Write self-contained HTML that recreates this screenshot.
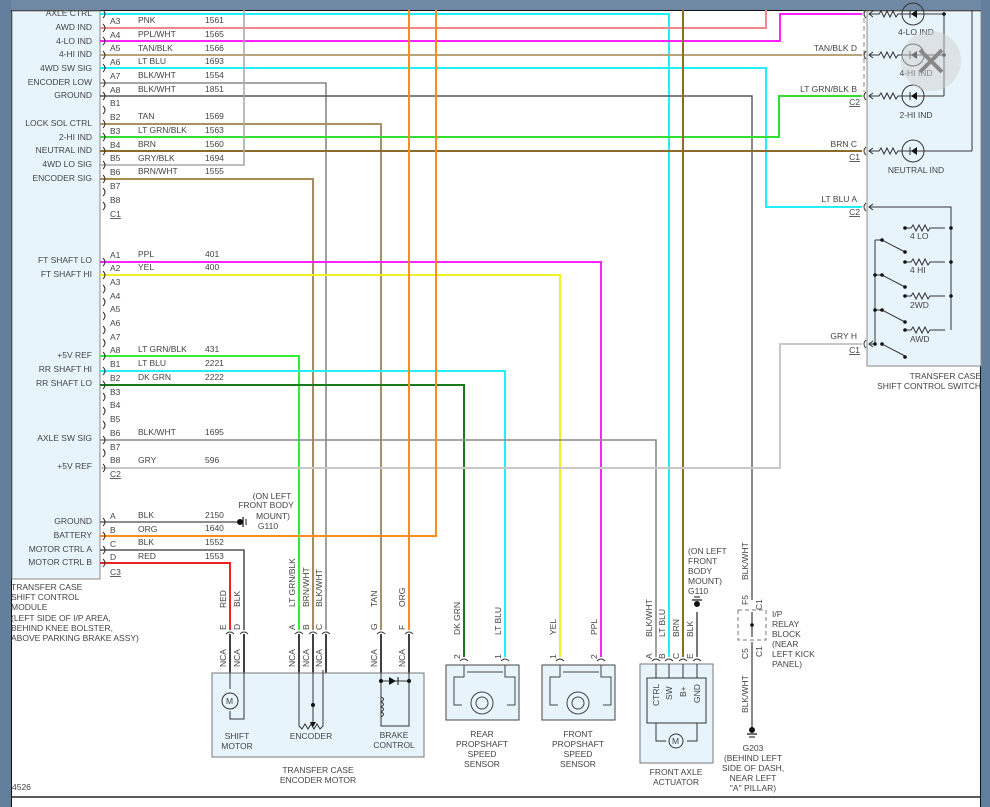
<!DOCTYPE html>
<html><head><meta charset="utf-8"><style>
html,body{margin:0;padding:0;background:#fff;}
svg{display:block;}
text{font-family:"Liberation Sans",sans-serif;font-size:8.5px;fill:#444;}
</style></head><body>
<svg width="990" height="807" viewBox="0 0 990 807" xmlns="http://www.w3.org/2000/svg">
<rect x="0" y="0" width="990" height="807" fill="#fff"/>
<rect x="0" y="0" width="990" height="10" fill="#6f88a4"/>
<rect x="0" y="0" width="11" height="807" fill="#62809e"/>
<rect x="981" y="0" width="9" height="807" fill="#62809e"/>
<line x1="11.5" y1="10" x2="11.5" y2="807" stroke="#111" stroke-width="1"/>
<line x1="980.5" y1="10" x2="980.5" y2="807" stroke="#111" stroke-width="1"/>
<line x1="11" y1="10.5" x2="981" y2="10.5" stroke="#111" stroke-width="1"/>
<line x1="11" y1="797" x2="981" y2="797" stroke="#222" stroke-width="1.5"/>
<text x="12" y="790">4526</text>

<rect x="12" y="11" width="88" height="568" fill="#e8f4fc" stroke="#888" stroke-width="1"/>
<rect x="867" y="11" width="114" height="355" fill="#e8f4fc" stroke="#888" stroke-width="1"/>

<g fill="none" stroke-width="2">
<polyline points="100,14 669,14 669,657" stroke="#22f0f8"/>
<polyline points="100,28 766,28 766,10" stroke="#f08890"/>
<polyline points="100,41 780,41 780,14 862,14" stroke="#ff22ff"/>
<polyline points="100,55 862,55" stroke="#b8a478"/>
<polyline points="100,68 766,68 766,207 862,207" stroke="#22f0f8"/>
<polyline points="100,83 326,83 326,630" stroke="#888" stroke-width="1.6"/>
<polyline points="100,96 752,96 752,600" stroke="#555" stroke-width="1.4"/>
<polyline points="100,124 381,124 381,630" stroke="#a89060"/>
<polyline points="100,137 779,137 779,96 862,96" stroke="#33dd33"/>
<polyline points="100,151 862,151" stroke="#8b6a2a"/>
<polyline points="100,165 244,165 244,10" stroke="#aaa" stroke-width="1.6"/>
<polyline points="100,179 313,179 313,630" stroke="#a88c50"/>
<line x1="683" y1="10" x2="683" y2="657" stroke="#8b6a2a"/>
<polyline points="100,262 601,262 601,657" stroke="#ff22ff"/>
<polyline points="100,275 560,275 560,657" stroke="#f0f022"/>
<polyline points="100,356 299,356 299,630" stroke="#33ee33"/>
<polyline points="100,371 505,371 505,657" stroke="#22f0f8"/>
<polyline points="100,385 464,385 464,657" stroke="#1a7a1a"/>
<polyline points="100,440 656,440 656,657" stroke="#888" stroke-width="1.6"/>
<polyline points="100,468 780,468 780,344 862,344" stroke="#c8c8c8"/>
<polyline points="100,522 237,522" stroke="#666" stroke-width="1.6"/>
<polyline points="100,536 436,536 436,10" stroke="#ff8c1a"/>
<line x1="409" y1="10" x2="409" y2="630" stroke="#ff8c1a"/>
<polyline points="100,550 244,550 244,630" stroke="#555" stroke-width="1.6"/>
<polyline points="100,563 230,563 230,630" stroke="#ee2222"/>
<line x1="697" y1="612" x2="697" y2="657" stroke="#555" stroke-width="1.6"/>
</g>

<g fill="none" stroke="#333" stroke-width="1">
<path d="M103,10 q4,4 0,8 M103,24 q4,4 0,8 M103,37 q4,4 0,8 M103,51 q4,4 0,8 M103,64 q4,4 0,8 M103,79 q4,4 0,8 M103,92 q4,4 0,8 M103,106 q4,4 0,8 M103,120 q4,4 0,8 M103,133 q4,4 0,8 M103,147 q4,4 0,8 M103,161 q4,4 0,8 M103,175 q4,4 0,8 M103,188 q4,4 0,8 M103,202 q4,4 0,8"/>
<path d="M103,258 q4,4 0,8 M103,271 q4,4 0,8 M103,285 q4,4 0,8 M103,298 q4,4 0,8 M103,312 q4,4 0,8 M103,326 q4,4 0,8 M103,339 q4,4 0,8 M103,352 q4,4 0,8 M103,367 q4,4 0,8 M103,381 q4,4 0,8 M103,393 q4,4 0,8 M103,407 q4,4 0,8 M103,421 q4,4 0,8 M103,436 q4,4 0,8 M103,449 q4,4 0,8 M103,464 q4,4 0,8"/>
<path d="M103,518 q4,4 0,8 M103,532 q4,4 0,8 M103,546 q4,4 0,8 M103,559 q4,4 0,8"/>
</g>

<g text-anchor="end">
<text x="92" y="16">AXLE CTRL</text><text x="92" y="30">AWD IND</text><text x="92" y="44">4-LO IND</text>
<text x="92" y="57">4-HI IND</text><text x="92" y="71">4WD SW SIG</text><text x="92" y="85">ENCODER LOW</text>
<text x="92" y="98">GROUND</text><text x="92" y="126">LOCK SOL CTRL</text><text x="92" y="140">2-HI IND</text>
<text x="92" y="153">NEUTRAL IND</text><text x="92" y="167">4WD LO SIG</text><text x="92" y="181">ENCODER SIG</text>
<text x="92" y="263">FT SHAFT LO</text><text x="92" y="277">FT SHAFT HI</text><text x="92" y="358">+5V REF</text>
<text x="92" y="372">RR SHAFT HI</text><text x="92" y="386">RR SHAFT LO</text><text x="92" y="441">AXLE SW SIG</text>
<text x="92" y="469">+5V REF</text><text x="92" y="524">GROUND</text><text x="92" y="538">BATTERY</text>
<text x="92" y="552">MOTOR CTRL A</text><text x="92" y="565">MOTOR CTRL B</text>
</g>
<g>
<text x="110" y="24">A3</text><text x="138" y="23">PNK</text><text x="205" y="23">1561</text>
<text x="110" y="38">A4</text><text x="138" y="37">PPL/WHT</text><text x="205" y="37">1565</text>
<text x="110" y="51">A5</text><text x="138" y="51">TAN/BLK</text><text x="205" y="51">1566</text>
<text x="110" y="65">A6</text><text x="138" y="64">LT BLU</text><text x="205" y="64">1693</text>
<text x="110" y="79">A7</text><text x="138" y="78">BLK/WHT</text><text x="205" y="78">1554</text>
<text x="110" y="93">A8</text><text x="138" y="92">BLK/WHT</text><text x="205" y="92">1851</text>
<text x="110" y="106">B1</text>
<text x="110" y="120">B2</text><text x="138" y="119">TAN</text><text x="205" y="119">1569</text>
<text x="110" y="134">B3</text><text x="138" y="133">LT GRN/BLK</text><text x="205" y="133">1563</text>
<text x="110" y="148">B4</text><text x="138" y="147">BRN</text><text x="205" y="147">1560</text>
<text x="110" y="161">B5</text><text x="138" y="161">GRY/BLK</text><text x="205" y="161">1694</text>
<text x="110" y="175">B6</text><text x="138" y="174">BRN/WHT</text><text x="205" y="174">1555</text>
<text x="110" y="189">B7</text><text x="110" y="203">B8</text><text x="110" y="217" text-decoration="underline">C1</text>
<text x="110" y="258">A1</text><text x="138" y="257">PPL</text><text x="205" y="257">401</text>
<text x="110" y="271">A2</text><text x="138" y="270">YEL</text><text x="205" y="270">400</text>
<text x="110" y="285">A3</text><text x="110" y="299">A4</text><text x="110" y="312">A5</text><text x="110" y="326">A6</text><text x="110" y="340">A7</text>
<text x="110" y="353">A8</text><text x="138" y="352">LT GRN/BLK</text><text x="205" y="352">431</text>
<text x="110" y="367">B1</text><text x="138" y="366">LT BLU</text><text x="205" y="366">2221</text>
<text x="110" y="381">B2</text><text x="138" y="380">DK GRN</text><text x="205" y="380">2222</text>
<text x="110" y="395">B3</text><text x="110" y="408">B4</text><text x="110" y="422">B5</text>
<text x="110" y="436">B6</text><text x="138" y="435">BLK/WHT</text><text x="205" y="435">1695</text>
<text x="110" y="450">B7</text>
<text x="110" y="463">B8</text><text x="138" y="463">GRY</text><text x="205" y="463">596</text>
<text x="110" y="477" text-decoration="underline">C2</text>
<text x="110" y="519">A</text><text x="138" y="518">BLK</text><text x="205" y="518">2150</text>
<text x="110" y="533">B</text><text x="138" y="532">ORG</text><text x="205" y="531">1640</text>
<text x="110" y="547">C</text><text x="138" y="545">BLK</text><text x="205" y="545">1552</text>
<text x="110" y="560">D</text><text x="138" y="559">RED</text><text x="205" y="559">1553</text>
<text x="110" y="575" text-decoration="underline">C3</text>
<text x="11" y="590">TRANSFER CASE</text><text x="11" y="600">SHIFT CONTROL</text><text x="11" y="610">MODULE</text>
<text x="11" y="621">(LEFT SIDE OF I/P AREA,</text><text x="11" y="631">BEHIND KNEE BOLSTER,</text><text x="11" y="641">ABOVE PARKING BRAKE ASSY)</text>
</g>

<g stroke="#111" fill="#111"><circle cx="240" cy="522" r="2.5"/><line x1="243" y1="517" x2="243" y2="527" stroke-width="1.2"/><line x1="246" y1="519" x2="246" y2="525"/></g>
<g text-anchor="middle"><text x="272" y="499">(ON LEFT</text><text x="266" y="508">FRONT BODY</text><text x="273" y="519">MOUNT)</text><text x="268" y="529">G110</text></g>

<g text-anchor="end">
<text x="857" y="51">TAN/BLK  D</text>
<text x="857" y="92">LT GRN/BLK  B</text><text x="860" y="105" text-decoration="underline">C2</text>
<text x="857" y="147">BRN  C</text><text x="860" y="160" text-decoration="underline">C1</text>
<text x="857" y="202">LT BLU  A</text><text x="860" y="215" text-decoration="underline">C2</text>
<text x="857" y="339">GRY  H</text><text x="860" y="353" text-decoration="underline">C1</text>
<text x="981" y="379">TRANSFER CASE</text><text x="981" y="389">SHIFT CONTROL SWITCH</text>
</g>
<line x1="864" y1="10" x2="864" y2="92" stroke="#888" stroke-dasharray="5,3"/>
<g fill="none" stroke="#333" stroke-width="1">
<path d="M866,10 q-4,4 0,8 M866,51 q-4,4 0,8 M866,92 q-4,4 0,8 M866,147 q-4,4 0,8 M866,203 q-4,4 0,8 M866,340 q-4,4 0,8"/>
<path d="M873,11 l-4,3 4,3 M873,52 l-4,3 4,3 M873,93 l-4,3 4,3 M873,148 l-4,3 4,3 M873,204 l-4,3 4,3 M873,341 l-4,3 4,3"/>
<path d="M869,14 h10 l2,-3 3,6 3,-6 3,6 3,-6 3,6 2,-3 h15"/>
<path d="M869,55 h10 l2,-3 3,6 3,-6 3,6 3,-6 3,6 2,-3 h15"/>
<path d="M869,96 h10 l2,-3 3,6 3,-6 3,6 3,-6 3,6 2,-3 h15"/>
<path d="M869,151 h10 l2,-3 3,6 3,-6 3,6 3,-6 3,6 2,-3 h15"/>
<circle cx="913" cy="14" r="11"/><circle cx="913" cy="55" r="11"/><circle cx="913" cy="96" r="11"/><circle cx="913" cy="151" r="11"/>
<path d="M909,14 h35 M909,55 h35 M909,96 h35 M909,151 h63 M944,14 v82 M972,151 v-141"/>
<path d="M910,10 v8 M910,51 v8 M910,92 v8 M910,147 v8"/>
<path d="M869,207 h82 v123"/>
<path d="M905,228 h6 l2,-3 3,6 3,-6 3,6 3,-6 3,6 2,-3 h15 M905,262 h6 l2,-3 3,6 3,-6 3,6 3,-6 3,6 2,-3 h15 M905,296 h6 l2,-3 3,6 3,-6 3,6 3,-6 3,6 2,-3 h15 M905,330 h6 l2,-3 3,6 3,-6 3,6 3,-6 3,6 2,-3 h15"/>
<path d="M869,344 h6 M875,240 v104 M875,275 h6 M875,310 h6 M882,240 l23,12 M882,275 l23,12 M882,310 l23,12 M882,344 l23,12 M875,240 h7"/>
</g>
<g fill="#111"><path d="M917,10 l-6,4 6,4z M917,51 l-6,4 6,4z M917,92 l-6,4 6,4z M917,147 l-6,4 6,4z"/>
<circle cx="944" cy="14" r="1.8"/><circle cx="944" cy="55" r="1.8"/>
<circle cx="905" cy="228" r="1.8"/><circle cx="951" cy="228" r="1.8"/><circle cx="905" cy="262" r="1.8"/><circle cx="951" cy="262" r="1.8"/><circle cx="905" cy="296" r="1.8"/><circle cx="951" cy="296" r="1.8"/><circle cx="905" cy="330" r="1.8"/>
<circle cx="882" cy="240" r="1.8"/><circle cx="905" cy="252" r="1.8"/><circle cx="875" cy="275" r="1.8"/><circle cx="882" cy="275" r="1.8"/><circle cx="905" cy="287" r="1.8"/><circle cx="875" cy="310" r="1.8"/><circle cx="882" cy="310" r="1.8"/><circle cx="905" cy="322" r="1.8"/><circle cx="875" cy="344" r="1.8"/><circle cx="882" cy="344" r="1.8"/><circle cx="905" cy="357" r="1.8"/></g>
<g text-anchor="middle"><text x="916" y="35">4-LO IND</text><text x="916" y="76">4-HI IND</text><text x="916" y="118">2-HI IND</text><text x="916" y="173">NEUTRAL IND</text></g>
<text x="910" y="239">4 LO</text><text x="910" y="273">4 HI</text><text x="910" y="308">2WD</text><text x="910" y="342">AWD</text>
<circle cx="931" cy="61" r="30" fill="#d0d0d0" fill-opacity="0.5"/>
<path d="M920,50 l22,22 M942,50 l-22,22" stroke="#888" stroke-width="4"/>

<g fill="none" stroke="#333" stroke-width="1">
<path d="M226,634 q4,-4 8,0 M240,634 q4,-4 8,0 M295,634 q4,-4 8,0 M309,634 q4,-4 8,0 M322,634 q4,-4 8,0 M377,634 q4,-4 8,0 M405,634 q4,-4 8,0"/>
<path d="M460,661 q4,-4 8,0 M501,661 q4,-4 8,0 M556,661 q4,-4 8,0 M597,661 q4,-4 8,0 M652,661 q4,-4 8,0 M665,661 q4,-4 8,0 M679,661 q4,-4 8,0 M693,661 q4,-4 8,0"/>
</g>
<g stroke="#111" stroke-width="1.6"><path d="M230,634 v45 M244,634 v39 M299,634 v39 M313,634 v39 M326,634 v39 M381,634 v39 M409,634 v39"/></g>
<g font-size="8">
<text transform="translate(226,608) rotate(-90)">RED</text><text transform="translate(240,607) rotate(-90)">BLK</text>
<text transform="translate(295,607) rotate(-90)">LT GRN/BLK</text><text transform="translate(309,607) rotate(-90)">BRN/WHT</text><text transform="translate(322,607) rotate(-90)">BLK/WHT</text>
<text transform="translate(377,607) rotate(-90)">TAN</text><text transform="translate(405,607) rotate(-90)">ORG</text>
<text transform="translate(226,630) rotate(-90)">E</text><text transform="translate(240,630) rotate(-90)">D</text><text transform="translate(295,630) rotate(-90)">A</text><text transform="translate(309,630) rotate(-90)">B</text><text transform="translate(322,630) rotate(-90)">C</text><text transform="translate(377,630) rotate(-90)">G</text><text transform="translate(405,630) rotate(-90)">F</text>
<text transform="translate(226,667) rotate(-90)">NCA</text><text transform="translate(240,667) rotate(-90)">NCA</text><text transform="translate(295,667) rotate(-90)">NCA</text><text transform="translate(309,667) rotate(-90)">NCA</text><text transform="translate(322,667) rotate(-90)">NCA</text><text transform="translate(377,667) rotate(-90)">NCA</text><text transform="translate(405,667) rotate(-90)">NCA</text>
<text transform="translate(460,635) rotate(-90)">DK GRN</text><text transform="translate(501,635) rotate(-90)">LT BLU</text><text transform="translate(556,635) rotate(-90)">YEL</text><text transform="translate(597,635) rotate(-90)">PPL</text>
<text transform="translate(460,659) rotate(-90)">2</text><text transform="translate(501,659) rotate(-90)">1</text><text transform="translate(556,659) rotate(-90)">1</text><text transform="translate(597,659) rotate(-90)">2</text>
<text transform="translate(652,637) rotate(-90)">BLK/WHT</text><text transform="translate(665,637) rotate(-90)">LT BLU</text><text transform="translate(679,637) rotate(-90)">BRN</text><text transform="translate(693,637) rotate(-90)">BLK</text>
<text transform="translate(652,659) rotate(-90)">A</text><text transform="translate(665,659) rotate(-90)">B</text><text transform="translate(679,659) rotate(-90)">C</text><text transform="translate(693,659) rotate(-90)">E</text>
<text transform="translate(748,580) rotate(-90)">BLK/WHT</text><text transform="translate(748,605) rotate(-90)">F5</text><text transform="translate(762,610) rotate(-90)">C1</text>
<text transform="translate(748,659) rotate(-90)">C5</text><text transform="translate(762,657) rotate(-90)">C1</text>
<text transform="translate(748,713) rotate(-90)">BLK/WHT</text>
</g>

<rect x="212" y="673" width="212" height="84" fill="#e8f4fc" stroke="#777"/>
<g fill="none" stroke="#333" stroke-width="1">
<path d="M230,673 v16 M230,711 v8 h14 v-46"/>
<circle cx="230" cy="701" r="8" fill="#e8f4fc"/>
<path d="M299,673 v53 l3,3 3,-5 3,5 3,-5 3,5 3,-5 3,5 3,-3 v-56 M313,673 v51"/>
<path d="M381,673 v53 h28 v-53 M381,681 h28 M381,697 q5,2 0,5 q5,2 0,5 q5,2 0,5 q5,2 0,5"/>
</g>
<text x="226" y="704" font-size="9" fill="#333">M</text>
<g fill="#111"><circle cx="313" cy="705" r="2"/><path d="M310,722 l3,5 3,-5z"/><circle cx="381" cy="681" r="2"/><circle cx="409" cy="681" r="2"/><path d="M389,677 l7,4 -7,4z"/><line x1="398" y1="677" x2="398" y2="685" stroke="#111"/></g>
<g text-anchor="middle"><text x="237" y="739">SHIFT</text><text x="237" y="749">MOTOR</text><text x="311" y="739">ENCODER</text><text x="394" y="738">BRAKE</text><text x="394" y="748">CONTROL</text>
<text x="318" y="773">TRANSFER CASE</text><text x="318" y="783">ENCODER MOTOR</text></g>

<g fill="none" stroke="#444" stroke-width="1">
<rect x="446" y="665" width="73" height="55" fill="#e8f4fc"/>
<rect x="542" y="665" width="73" height="55" fill="#e8f4fc"/>
<path d="M464,665 v12 h-10 v28 h8 M505,665 v12 h10 v28 h-8 M467,672 h36"/>
<path d="M560,665 v12 h-10 v28 h8 M601,665 v12 h10 v28 h-8 M563,672 h36"/>
<circle cx="482" cy="703" r="11"/><circle cx="578" cy="703" r="11"/>
<circle cx="482" cy="703" r="6"/><circle cx="578" cy="703" r="6"/>
</g>
<g text-anchor="middle"><text x="482" y="737">REAR</text><text x="482" y="747">PROPSHAFT</text><text x="482" y="757">SPEED</text><text x="482" y="767">SENSOR</text>
<text x="578" y="737">FRONT</text><text x="578" y="747">PROPSHAFT</text><text x="578" y="757">SPEED</text><text x="578" y="767">SENSOR</text></g>

<rect x="640" y="664" width="73" height="99" fill="#e8f4fc" stroke="#777"/>
<g fill="none" stroke="#333"><rect x="647" y="678" width="59" height="45"/><path d="M656,664 v14 M669,664 v14 M683,664 v14 M697,664 v14 M656,723 v18 h10 M697,723 v18 h-10"/><circle cx="676" cy="741" r="7"/></g>
<text x="672" y="744" font-size="9" fill="#333">M</text>
<g font-size="8"><text transform="translate(659,706) rotate(-90)">CTRL</text><text transform="translate(672,700) rotate(-90)">SW</text><text transform="translate(686,697) rotate(-90)">B+</text><text transform="translate(700,703) rotate(-90)">GND</text></g>
<g text-anchor="middle"><text x="676" y="775">FRONT AXLE</text><text x="676" y="785">ACTUATOR</text></g>
<text x="688" y="554">(ON LEFT</text><text x="688" y="564">FRONT</text><text x="688" y="574">BODY</text><text x="688" y="584">MOUNT)</text><text x="688" y="594">G110</text>
<g stroke="#111" fill="#111"><circle cx="697" cy="604" r="2.5"/><line x1="692" y1="600" x2="702" y2="600" stroke-width="1.2"/><line x1="694" y1="597" x2="700" y2="597"/></g>

<rect x="738" y="610" width="28" height="30" fill="none" stroke="#777" stroke-dasharray="4,3"/>
<g fill="none" stroke="#555" stroke-width="1.4"><path d="M752,612 v25 M752,642 v88"/></g>
<circle cx="752" cy="625" r="1.8" fill="#111"/>
<text x="772" y="617">I/P</text><text x="772" y="627">RELAY</text><text x="772" y="637">BLOCK</text><text x="772" y="647">(NEAR</text><text x="772" y="657">LEFT KICK</text><text x="772" y="667">PANEL)</text>
<g stroke="#111" fill="#111"><circle cx="752" cy="730" r="2.5"/><line x1="747" y1="734" x2="757" y2="734" stroke-width="1.2"/><line x1="749" y1="737" x2="755" y2="737"/></g>
<g text-anchor="middle"><text x="753" y="751">G203</text><text x="753" y="761">(BEHIND LEFT</text><text x="753" y="771">SIDE OF DASH,</text><text x="753" y="781">NEAR LEFT</text><text x="753" y="791">"A" PILLAR)</text></g>
</svg>
</body></html>
